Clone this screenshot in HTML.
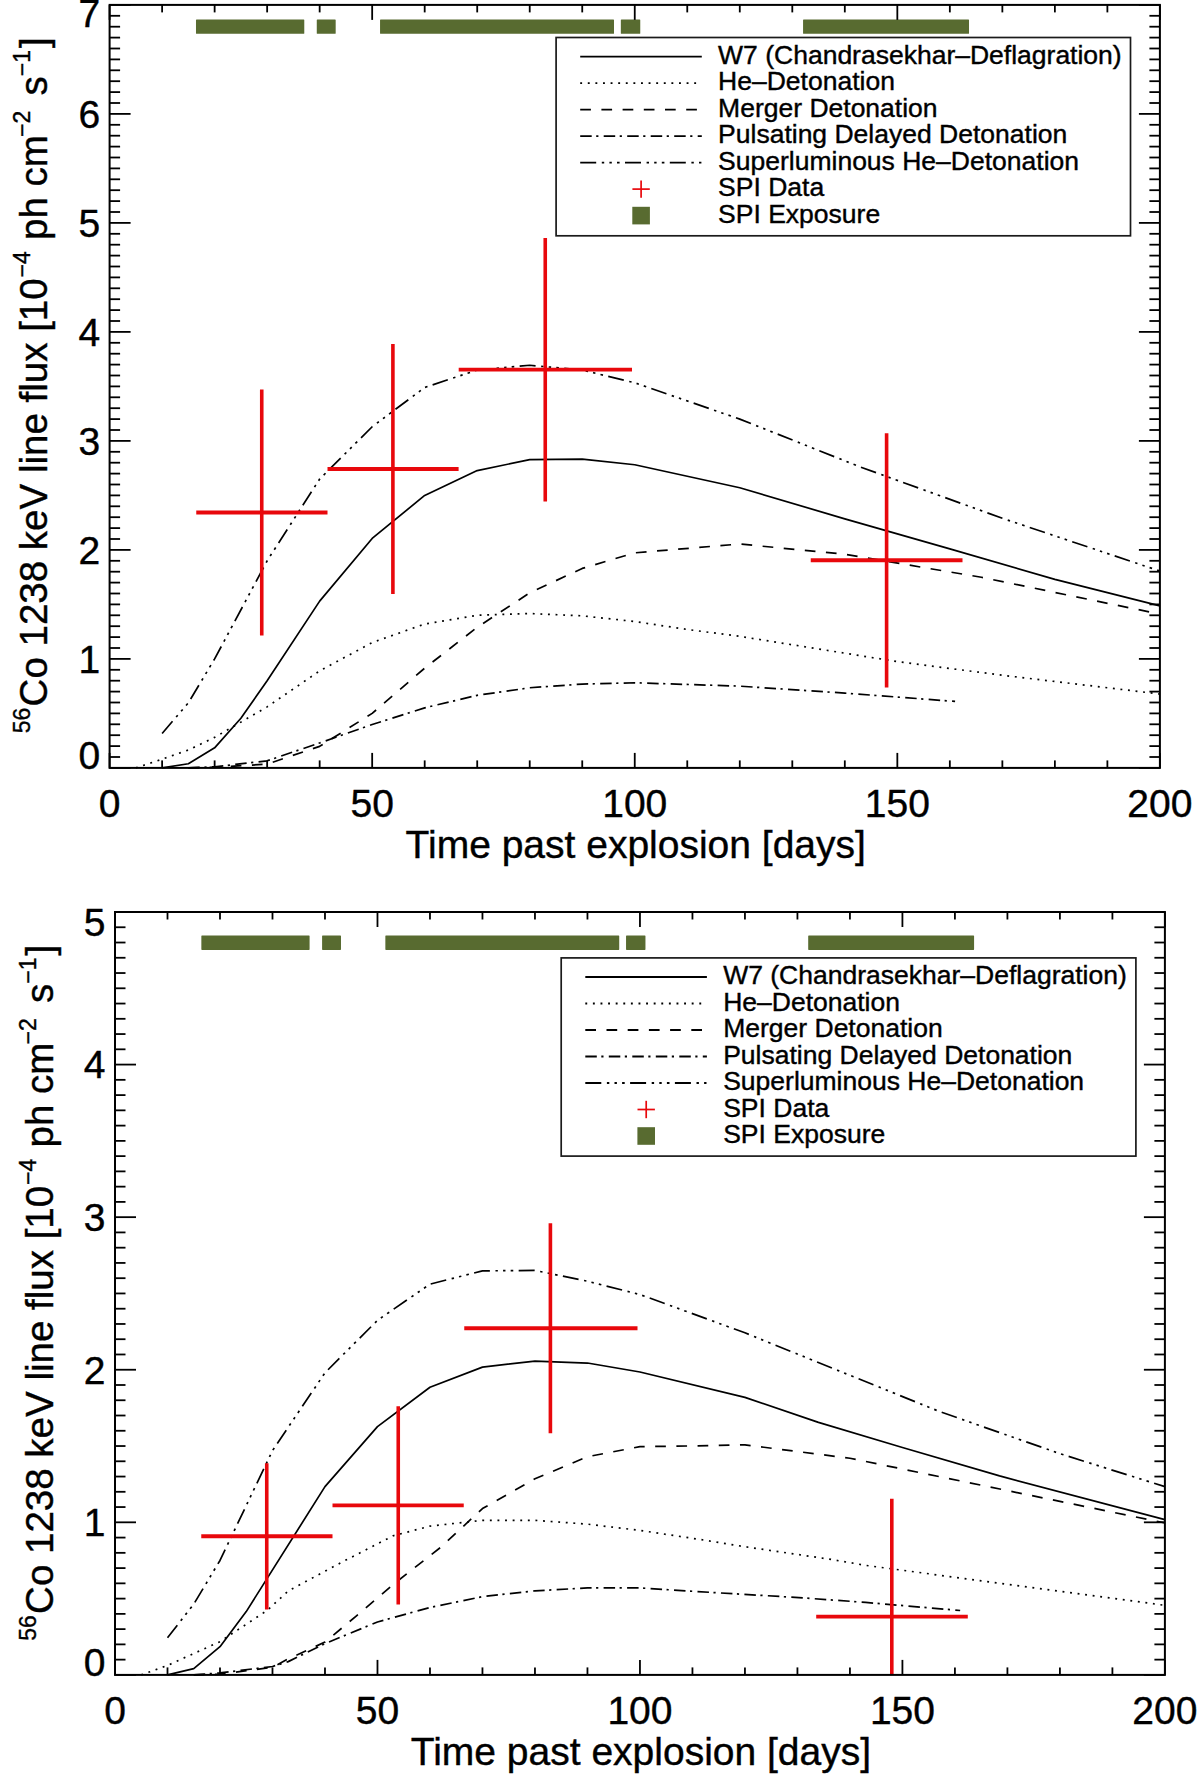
<!DOCTYPE html>
<html><head><meta charset="utf-8"><title>56Co line flux</title>
<style>html,body{margin:0;padding:0;background:#fff;}svg{display:block;}text{font-family:"Liberation Sans", Arial, Helvetica, sans-serif;fill:#000;stroke:#000;stroke-width:0.4px;}</style>
</head><body>
<svg width="1200" height="1775" viewBox="0 0 1200 1775">
<rect width="1200" height="1775" fill="#fff"/>
<polyline points="162.12,767.90 188.37,763.76 214.63,747.84 240.89,718.30 267.14,680.70 319.66,601.13 372.17,538.45 424.69,495.40 477.21,470.55 529.72,459.65 582.24,459.10 634.75,464.77 739.78,487.77 844.81,518.83 949.84,548.81 1054.87,579.33 1159.90,605.82" fill="none" stroke="#000" stroke-width="1.7" stroke-linejoin="round"/>
<polyline points="135.86,767.90 162.12,759.18 188.37,750.02 214.63,737.38 240.89,722.12 267.14,706.86 319.66,670.89 372.17,642.55 424.69,624.02 477.21,615.30 529.72,613.56 582.24,615.85 634.75,621.51 687.26,629.47 739.78,636.34 897.33,661.62 1002.36,675.25 1159.90,694.00" fill="none" stroke="#000" stroke-width="1.7" stroke-dasharray="1.9 5.7" stroke-linejoin="round"/>
<polyline points="188.37,767.90 214.63,767.36 267.14,764.08 319.66,746.32 372.17,713.40 424.69,668.16 477.21,627.29 529.72,592.85 582.24,568.43 634.75,552.84 739.78,544.01 844.81,554.26 981.35,577.26 1159.90,614.10" fill="none" stroke="#000" stroke-width="1.7" stroke-dasharray="10.7 10.5" stroke-linejoin="round"/>
<polyline points="188.37,767.90 214.63,766.81 267.14,760.81 319.66,742.94 372.17,724.52 424.69,707.84 477.21,695.31 529.72,687.78 582.24,684.08 634.75,682.77 739.78,686.15 844.81,693.13 955.09,701.41" fill="none" stroke="#000" stroke-width="1.7" stroke-dasharray="11.5 4.5 2.2 5.3" stroke-linejoin="round"/>
<polyline points="162.12,733.46 188.37,702.83 214.63,658.90 267.14,560.80 319.66,479.05 372.17,426.73 424.69,387.49 477.21,370.05 529.72,365.25 582.24,370.05 634.75,382.80 739.78,419.10 860.56,467.06 1002.36,518.29 1159.90,571.05" fill="none" stroke="#000" stroke-width="1.7" stroke-dasharray="16 5.6 2.4 5.2 2.4 5.2 2.6 5.4" stroke-linejoin="round"/>
<line x1="196.25" y1="512.50" x2="327.50" y2="512.50" stroke="#e8080c" stroke-width="3.8"/>
<line x1="261.75" y1="389.50" x2="261.75" y2="635.50" stroke="#e8080c" stroke-width="3.6"/>
<line x1="327.50" y1="469.00" x2="458.60" y2="469.00" stroke="#e8080c" stroke-width="3.8"/>
<line x1="392.90" y1="344.00" x2="392.90" y2="594.00" stroke="#e8080c" stroke-width="3.6"/>
<line x1="458.70" y1="369.60" x2="632.00" y2="369.60" stroke="#e8080c" stroke-width="3.8"/>
<line x1="545.25" y1="238.00" x2="545.25" y2="501.50" stroke="#e8080c" stroke-width="3.6"/>
<line x1="810.75" y1="560.25" x2="962.50" y2="560.25" stroke="#e8080c" stroke-width="3.8"/>
<line x1="886.60" y1="433.25" x2="886.60" y2="687.50" stroke="#e8080c" stroke-width="3.6"/>
<rect x="195.99" y="19.40" width="108.29" height="14.4" rx="0.6" fill="#586b30"/>
<rect x="316.77" y="19.40" width="18.91" height="14.4" rx="0.6" fill="#586b30"/>
<rect x="380.05" y="19.40" width="233.95" height="14.4" rx="0.6" fill="#586b30"/>
<rect x="620.83" y="19.40" width="19.43" height="14.4" rx="0.6" fill="#586b30"/>
<rect x="803.06" y="19.40" width="165.95" height="14.4" rx="0.6" fill="#586b30"/>
<rect x="556.10" y="37.50" width="574.4" height="198.3" fill="#fff" stroke="#1a1a1a" stroke-width="1.7"/>
<line x1="580.20" y1="56.60" x2="701.80" y2="56.60" stroke="#000" stroke-width="1.8"/>
<text x="718.10" y="63.80" font-size="26.5">W7 (Chandrasekhar–Deflagration)</text>
<line x1="580.20" y1="83.10" x2="701.80" y2="83.10" stroke="#000" stroke-width="1.8" stroke-dasharray="1.9 5.7"/>
<text x="718.10" y="90.30" font-size="26.5">He–Detonation</text>
<line x1="580.20" y1="109.60" x2="701.80" y2="109.60" stroke="#000" stroke-width="1.8" stroke-dasharray="10.7 10.5"/>
<text x="718.10" y="116.80" font-size="26.5">Merger Detonation</text>
<line x1="580.20" y1="136.10" x2="701.80" y2="136.10" stroke="#000" stroke-width="1.8" stroke-dasharray="11.5 4.5 2.2 5.3"/>
<text x="718.10" y="143.30" font-size="26.5">Pulsating Delayed Detonation</text>
<line x1="580.20" y1="162.60" x2="701.80" y2="162.60" stroke="#000" stroke-width="1.8" stroke-dasharray="16 5.6 2.4 5.2 2.4 5.2 2.6 5.4"/>
<text x="718.10" y="169.80" font-size="26.5">Superluminous He–Detonation</text>
<line x1="632.40" y1="189.10" x2="649.80" y2="189.10" stroke="#e8080c" stroke-width="1.7"/>
<line x1="641.10" y1="180.40" x2="641.10" y2="197.80" stroke="#e8080c" stroke-width="1.7"/>
<text x="718.10" y="196.30" font-size="26.5">SPI Data</text>
<rect x="632.30" y="206.80" width="17.6" height="17.6" fill="#586b30"/>
<text x="718.10" y="222.80" font-size="26.5">SPI Exposure</text>
<rect x="109.60" y="4.90" width="1050.30" height="763.00" fill="none" stroke="#000" stroke-width="2"/>
<line x1="109.60" y1="767.90" x2="109.60" y2="752.90" stroke="#000" stroke-width="1.8"/>
<line x1="109.60" y1="4.90" x2="109.60" y2="19.90" stroke="#000" stroke-width="1.8"/>
<line x1="162.12" y1="767.90" x2="162.12" y2="760.40" stroke="#000" stroke-width="1.8"/>
<line x1="162.12" y1="4.90" x2="162.12" y2="12.40" stroke="#000" stroke-width="1.8"/>
<line x1="214.63" y1="767.90" x2="214.63" y2="760.40" stroke="#000" stroke-width="1.8"/>
<line x1="214.63" y1="4.90" x2="214.63" y2="12.40" stroke="#000" stroke-width="1.8"/>
<line x1="267.14" y1="767.90" x2="267.14" y2="760.40" stroke="#000" stroke-width="1.8"/>
<line x1="267.14" y1="4.90" x2="267.14" y2="12.40" stroke="#000" stroke-width="1.8"/>
<line x1="319.66" y1="767.90" x2="319.66" y2="760.40" stroke="#000" stroke-width="1.8"/>
<line x1="319.66" y1="4.90" x2="319.66" y2="12.40" stroke="#000" stroke-width="1.8"/>
<line x1="372.17" y1="767.90" x2="372.17" y2="752.90" stroke="#000" stroke-width="1.8"/>
<line x1="372.17" y1="4.90" x2="372.17" y2="19.90" stroke="#000" stroke-width="1.8"/>
<line x1="424.69" y1="767.90" x2="424.69" y2="760.40" stroke="#000" stroke-width="1.8"/>
<line x1="424.69" y1="4.90" x2="424.69" y2="12.40" stroke="#000" stroke-width="1.8"/>
<line x1="477.21" y1="767.90" x2="477.21" y2="760.40" stroke="#000" stroke-width="1.8"/>
<line x1="477.21" y1="4.90" x2="477.21" y2="12.40" stroke="#000" stroke-width="1.8"/>
<line x1="529.72" y1="767.90" x2="529.72" y2="760.40" stroke="#000" stroke-width="1.8"/>
<line x1="529.72" y1="4.90" x2="529.72" y2="12.40" stroke="#000" stroke-width="1.8"/>
<line x1="582.24" y1="767.90" x2="582.24" y2="760.40" stroke="#000" stroke-width="1.8"/>
<line x1="582.24" y1="4.90" x2="582.24" y2="12.40" stroke="#000" stroke-width="1.8"/>
<line x1="634.75" y1="767.90" x2="634.75" y2="752.90" stroke="#000" stroke-width="1.8"/>
<line x1="634.75" y1="4.90" x2="634.75" y2="19.90" stroke="#000" stroke-width="1.8"/>
<line x1="687.26" y1="767.90" x2="687.26" y2="760.40" stroke="#000" stroke-width="1.8"/>
<line x1="687.26" y1="4.90" x2="687.26" y2="12.40" stroke="#000" stroke-width="1.8"/>
<line x1="739.78" y1="767.90" x2="739.78" y2="760.40" stroke="#000" stroke-width="1.8"/>
<line x1="739.78" y1="4.90" x2="739.78" y2="12.40" stroke="#000" stroke-width="1.8"/>
<line x1="792.30" y1="767.90" x2="792.30" y2="760.40" stroke="#000" stroke-width="1.8"/>
<line x1="792.30" y1="4.90" x2="792.30" y2="12.40" stroke="#000" stroke-width="1.8"/>
<line x1="844.81" y1="767.90" x2="844.81" y2="760.40" stroke="#000" stroke-width="1.8"/>
<line x1="844.81" y1="4.90" x2="844.81" y2="12.40" stroke="#000" stroke-width="1.8"/>
<line x1="897.33" y1="767.90" x2="897.33" y2="752.90" stroke="#000" stroke-width="1.8"/>
<line x1="897.33" y1="4.90" x2="897.33" y2="19.90" stroke="#000" stroke-width="1.8"/>
<line x1="949.84" y1="767.90" x2="949.84" y2="760.40" stroke="#000" stroke-width="1.8"/>
<line x1="949.84" y1="4.90" x2="949.84" y2="12.40" stroke="#000" stroke-width="1.8"/>
<line x1="1002.36" y1="767.90" x2="1002.36" y2="760.40" stroke="#000" stroke-width="1.8"/>
<line x1="1002.36" y1="4.90" x2="1002.36" y2="12.40" stroke="#000" stroke-width="1.8"/>
<line x1="1054.87" y1="767.90" x2="1054.87" y2="760.40" stroke="#000" stroke-width="1.8"/>
<line x1="1054.87" y1="4.90" x2="1054.87" y2="12.40" stroke="#000" stroke-width="1.8"/>
<line x1="1107.38" y1="767.90" x2="1107.38" y2="760.40" stroke="#000" stroke-width="1.8"/>
<line x1="1107.38" y1="4.90" x2="1107.38" y2="12.40" stroke="#000" stroke-width="1.8"/>
<line x1="1159.90" y1="767.90" x2="1159.90" y2="752.90" stroke="#000" stroke-width="1.8"/>
<line x1="1159.90" y1="4.90" x2="1159.90" y2="19.90" stroke="#000" stroke-width="1.8"/>
<line x1="109.60" y1="767.90" x2="130.60" y2="767.90" stroke="#000" stroke-width="1.8"/>
<line x1="1159.90" y1="767.90" x2="1138.90" y2="767.90" stroke="#000" stroke-width="1.8"/>
<line x1="109.60" y1="757.00" x2="120.10" y2="757.00" stroke="#000" stroke-width="1.8"/>
<line x1="1159.90" y1="757.00" x2="1149.40" y2="757.00" stroke="#000" stroke-width="1.8"/>
<line x1="109.60" y1="746.10" x2="120.10" y2="746.10" stroke="#000" stroke-width="1.8"/>
<line x1="1159.90" y1="746.10" x2="1149.40" y2="746.10" stroke="#000" stroke-width="1.8"/>
<line x1="109.60" y1="735.20" x2="120.10" y2="735.20" stroke="#000" stroke-width="1.8"/>
<line x1="1159.90" y1="735.20" x2="1149.40" y2="735.20" stroke="#000" stroke-width="1.8"/>
<line x1="109.60" y1="724.30" x2="120.10" y2="724.30" stroke="#000" stroke-width="1.8"/>
<line x1="1159.90" y1="724.30" x2="1149.40" y2="724.30" stroke="#000" stroke-width="1.8"/>
<line x1="109.60" y1="713.40" x2="120.10" y2="713.40" stroke="#000" stroke-width="1.8"/>
<line x1="1159.90" y1="713.40" x2="1149.40" y2="713.40" stroke="#000" stroke-width="1.8"/>
<line x1="109.60" y1="702.50" x2="120.10" y2="702.50" stroke="#000" stroke-width="1.8"/>
<line x1="1159.90" y1="702.50" x2="1149.40" y2="702.50" stroke="#000" stroke-width="1.8"/>
<line x1="109.60" y1="691.60" x2="120.10" y2="691.60" stroke="#000" stroke-width="1.8"/>
<line x1="1159.90" y1="691.60" x2="1149.40" y2="691.60" stroke="#000" stroke-width="1.8"/>
<line x1="109.60" y1="680.70" x2="120.10" y2="680.70" stroke="#000" stroke-width="1.8"/>
<line x1="1159.90" y1="680.70" x2="1149.40" y2="680.70" stroke="#000" stroke-width="1.8"/>
<line x1="109.60" y1="669.80" x2="120.10" y2="669.80" stroke="#000" stroke-width="1.8"/>
<line x1="1159.90" y1="669.80" x2="1149.40" y2="669.80" stroke="#000" stroke-width="1.8"/>
<line x1="109.60" y1="658.90" x2="130.60" y2="658.90" stroke="#000" stroke-width="1.8"/>
<line x1="1159.90" y1="658.90" x2="1138.90" y2="658.90" stroke="#000" stroke-width="1.8"/>
<line x1="109.60" y1="648.00" x2="120.10" y2="648.00" stroke="#000" stroke-width="1.8"/>
<line x1="1159.90" y1="648.00" x2="1149.40" y2="648.00" stroke="#000" stroke-width="1.8"/>
<line x1="109.60" y1="637.10" x2="120.10" y2="637.10" stroke="#000" stroke-width="1.8"/>
<line x1="1159.90" y1="637.10" x2="1149.40" y2="637.10" stroke="#000" stroke-width="1.8"/>
<line x1="109.60" y1="626.20" x2="120.10" y2="626.20" stroke="#000" stroke-width="1.8"/>
<line x1="1159.90" y1="626.20" x2="1149.40" y2="626.20" stroke="#000" stroke-width="1.8"/>
<line x1="109.60" y1="615.30" x2="120.10" y2="615.30" stroke="#000" stroke-width="1.8"/>
<line x1="1159.90" y1="615.30" x2="1149.40" y2="615.30" stroke="#000" stroke-width="1.8"/>
<line x1="109.60" y1="604.40" x2="120.10" y2="604.40" stroke="#000" stroke-width="1.8"/>
<line x1="1159.90" y1="604.40" x2="1149.40" y2="604.40" stroke="#000" stroke-width="1.8"/>
<line x1="109.60" y1="593.50" x2="120.10" y2="593.50" stroke="#000" stroke-width="1.8"/>
<line x1="1159.90" y1="593.50" x2="1149.40" y2="593.50" stroke="#000" stroke-width="1.8"/>
<line x1="109.60" y1="582.60" x2="120.10" y2="582.60" stroke="#000" stroke-width="1.8"/>
<line x1="1159.90" y1="582.60" x2="1149.40" y2="582.60" stroke="#000" stroke-width="1.8"/>
<line x1="109.60" y1="571.70" x2="120.10" y2="571.70" stroke="#000" stroke-width="1.8"/>
<line x1="1159.90" y1="571.70" x2="1149.40" y2="571.70" stroke="#000" stroke-width="1.8"/>
<line x1="109.60" y1="560.80" x2="120.10" y2="560.80" stroke="#000" stroke-width="1.8"/>
<line x1="1159.90" y1="560.80" x2="1149.40" y2="560.80" stroke="#000" stroke-width="1.8"/>
<line x1="109.60" y1="549.90" x2="130.60" y2="549.90" stroke="#000" stroke-width="1.8"/>
<line x1="1159.90" y1="549.90" x2="1138.90" y2="549.90" stroke="#000" stroke-width="1.8"/>
<line x1="109.60" y1="539.00" x2="120.10" y2="539.00" stroke="#000" stroke-width="1.8"/>
<line x1="1159.90" y1="539.00" x2="1149.40" y2="539.00" stroke="#000" stroke-width="1.8"/>
<line x1="109.60" y1="528.10" x2="120.10" y2="528.10" stroke="#000" stroke-width="1.8"/>
<line x1="1159.90" y1="528.10" x2="1149.40" y2="528.10" stroke="#000" stroke-width="1.8"/>
<line x1="109.60" y1="517.20" x2="120.10" y2="517.20" stroke="#000" stroke-width="1.8"/>
<line x1="1159.90" y1="517.20" x2="1149.40" y2="517.20" stroke="#000" stroke-width="1.8"/>
<line x1="109.60" y1="506.30" x2="120.10" y2="506.30" stroke="#000" stroke-width="1.8"/>
<line x1="1159.90" y1="506.30" x2="1149.40" y2="506.30" stroke="#000" stroke-width="1.8"/>
<line x1="109.60" y1="495.40" x2="120.10" y2="495.40" stroke="#000" stroke-width="1.8"/>
<line x1="1159.90" y1="495.40" x2="1149.40" y2="495.40" stroke="#000" stroke-width="1.8"/>
<line x1="109.60" y1="484.50" x2="120.10" y2="484.50" stroke="#000" stroke-width="1.8"/>
<line x1="1159.90" y1="484.50" x2="1149.40" y2="484.50" stroke="#000" stroke-width="1.8"/>
<line x1="109.60" y1="473.60" x2="120.10" y2="473.60" stroke="#000" stroke-width="1.8"/>
<line x1="1159.90" y1="473.60" x2="1149.40" y2="473.60" stroke="#000" stroke-width="1.8"/>
<line x1="109.60" y1="462.70" x2="120.10" y2="462.70" stroke="#000" stroke-width="1.8"/>
<line x1="1159.90" y1="462.70" x2="1149.40" y2="462.70" stroke="#000" stroke-width="1.8"/>
<line x1="109.60" y1="451.80" x2="120.10" y2="451.80" stroke="#000" stroke-width="1.8"/>
<line x1="1159.90" y1="451.80" x2="1149.40" y2="451.80" stroke="#000" stroke-width="1.8"/>
<line x1="109.60" y1="440.90" x2="130.60" y2="440.90" stroke="#000" stroke-width="1.8"/>
<line x1="1159.90" y1="440.90" x2="1138.90" y2="440.90" stroke="#000" stroke-width="1.8"/>
<line x1="109.60" y1="430.00" x2="120.10" y2="430.00" stroke="#000" stroke-width="1.8"/>
<line x1="1159.90" y1="430.00" x2="1149.40" y2="430.00" stroke="#000" stroke-width="1.8"/>
<line x1="109.60" y1="419.10" x2="120.10" y2="419.10" stroke="#000" stroke-width="1.8"/>
<line x1="1159.90" y1="419.10" x2="1149.40" y2="419.10" stroke="#000" stroke-width="1.8"/>
<line x1="109.60" y1="408.20" x2="120.10" y2="408.20" stroke="#000" stroke-width="1.8"/>
<line x1="1159.90" y1="408.20" x2="1149.40" y2="408.20" stroke="#000" stroke-width="1.8"/>
<line x1="109.60" y1="397.30" x2="120.10" y2="397.30" stroke="#000" stroke-width="1.8"/>
<line x1="1159.90" y1="397.30" x2="1149.40" y2="397.30" stroke="#000" stroke-width="1.8"/>
<line x1="109.60" y1="386.40" x2="120.10" y2="386.40" stroke="#000" stroke-width="1.8"/>
<line x1="1159.90" y1="386.40" x2="1149.40" y2="386.40" stroke="#000" stroke-width="1.8"/>
<line x1="109.60" y1="375.50" x2="120.10" y2="375.50" stroke="#000" stroke-width="1.8"/>
<line x1="1159.90" y1="375.50" x2="1149.40" y2="375.50" stroke="#000" stroke-width="1.8"/>
<line x1="109.60" y1="364.60" x2="120.10" y2="364.60" stroke="#000" stroke-width="1.8"/>
<line x1="1159.90" y1="364.60" x2="1149.40" y2="364.60" stroke="#000" stroke-width="1.8"/>
<line x1="109.60" y1="353.70" x2="120.10" y2="353.70" stroke="#000" stroke-width="1.8"/>
<line x1="1159.90" y1="353.70" x2="1149.40" y2="353.70" stroke="#000" stroke-width="1.8"/>
<line x1="109.60" y1="342.80" x2="120.10" y2="342.80" stroke="#000" stroke-width="1.8"/>
<line x1="1159.90" y1="342.80" x2="1149.40" y2="342.80" stroke="#000" stroke-width="1.8"/>
<line x1="109.60" y1="331.90" x2="130.60" y2="331.90" stroke="#000" stroke-width="1.8"/>
<line x1="1159.90" y1="331.90" x2="1138.90" y2="331.90" stroke="#000" stroke-width="1.8"/>
<line x1="109.60" y1="321.00" x2="120.10" y2="321.00" stroke="#000" stroke-width="1.8"/>
<line x1="1159.90" y1="321.00" x2="1149.40" y2="321.00" stroke="#000" stroke-width="1.8"/>
<line x1="109.60" y1="310.10" x2="120.10" y2="310.10" stroke="#000" stroke-width="1.8"/>
<line x1="1159.90" y1="310.10" x2="1149.40" y2="310.10" stroke="#000" stroke-width="1.8"/>
<line x1="109.60" y1="299.20" x2="120.10" y2="299.20" stroke="#000" stroke-width="1.8"/>
<line x1="1159.90" y1="299.20" x2="1149.40" y2="299.20" stroke="#000" stroke-width="1.8"/>
<line x1="109.60" y1="288.30" x2="120.10" y2="288.30" stroke="#000" stroke-width="1.8"/>
<line x1="1159.90" y1="288.30" x2="1149.40" y2="288.30" stroke="#000" stroke-width="1.8"/>
<line x1="109.60" y1="277.40" x2="120.10" y2="277.40" stroke="#000" stroke-width="1.8"/>
<line x1="1159.90" y1="277.40" x2="1149.40" y2="277.40" stroke="#000" stroke-width="1.8"/>
<line x1="109.60" y1="266.50" x2="120.10" y2="266.50" stroke="#000" stroke-width="1.8"/>
<line x1="1159.90" y1="266.50" x2="1149.40" y2="266.50" stroke="#000" stroke-width="1.8"/>
<line x1="109.60" y1="255.60" x2="120.10" y2="255.60" stroke="#000" stroke-width="1.8"/>
<line x1="1159.90" y1="255.60" x2="1149.40" y2="255.60" stroke="#000" stroke-width="1.8"/>
<line x1="109.60" y1="244.70" x2="120.10" y2="244.70" stroke="#000" stroke-width="1.8"/>
<line x1="1159.90" y1="244.70" x2="1149.40" y2="244.70" stroke="#000" stroke-width="1.8"/>
<line x1="109.60" y1="233.80" x2="120.10" y2="233.80" stroke="#000" stroke-width="1.8"/>
<line x1="1159.90" y1="233.80" x2="1149.40" y2="233.80" stroke="#000" stroke-width="1.8"/>
<line x1="109.60" y1="222.90" x2="130.60" y2="222.90" stroke="#000" stroke-width="1.8"/>
<line x1="1159.90" y1="222.90" x2="1138.90" y2="222.90" stroke="#000" stroke-width="1.8"/>
<line x1="109.60" y1="212.00" x2="120.10" y2="212.00" stroke="#000" stroke-width="1.8"/>
<line x1="1159.90" y1="212.00" x2="1149.40" y2="212.00" stroke="#000" stroke-width="1.8"/>
<line x1="109.60" y1="201.10" x2="120.10" y2="201.10" stroke="#000" stroke-width="1.8"/>
<line x1="1159.90" y1="201.10" x2="1149.40" y2="201.10" stroke="#000" stroke-width="1.8"/>
<line x1="109.60" y1="190.20" x2="120.10" y2="190.20" stroke="#000" stroke-width="1.8"/>
<line x1="1159.90" y1="190.20" x2="1149.40" y2="190.20" stroke="#000" stroke-width="1.8"/>
<line x1="109.60" y1="179.30" x2="120.10" y2="179.30" stroke="#000" stroke-width="1.8"/>
<line x1="1159.90" y1="179.30" x2="1149.40" y2="179.30" stroke="#000" stroke-width="1.8"/>
<line x1="109.60" y1="168.40" x2="120.10" y2="168.40" stroke="#000" stroke-width="1.8"/>
<line x1="1159.90" y1="168.40" x2="1149.40" y2="168.40" stroke="#000" stroke-width="1.8"/>
<line x1="109.60" y1="157.50" x2="120.10" y2="157.50" stroke="#000" stroke-width="1.8"/>
<line x1="1159.90" y1="157.50" x2="1149.40" y2="157.50" stroke="#000" stroke-width="1.8"/>
<line x1="109.60" y1="146.60" x2="120.10" y2="146.60" stroke="#000" stroke-width="1.8"/>
<line x1="1159.90" y1="146.60" x2="1149.40" y2="146.60" stroke="#000" stroke-width="1.8"/>
<line x1="109.60" y1="135.70" x2="120.10" y2="135.70" stroke="#000" stroke-width="1.8"/>
<line x1="1159.90" y1="135.70" x2="1149.40" y2="135.70" stroke="#000" stroke-width="1.8"/>
<line x1="109.60" y1="124.80" x2="120.10" y2="124.80" stroke="#000" stroke-width="1.8"/>
<line x1="1159.90" y1="124.80" x2="1149.40" y2="124.80" stroke="#000" stroke-width="1.8"/>
<line x1="109.60" y1="113.90" x2="130.60" y2="113.90" stroke="#000" stroke-width="1.8"/>
<line x1="1159.90" y1="113.90" x2="1138.90" y2="113.90" stroke="#000" stroke-width="1.8"/>
<line x1="109.60" y1="103.00" x2="120.10" y2="103.00" stroke="#000" stroke-width="1.8"/>
<line x1="1159.90" y1="103.00" x2="1149.40" y2="103.00" stroke="#000" stroke-width="1.8"/>
<line x1="109.60" y1="92.10" x2="120.10" y2="92.10" stroke="#000" stroke-width="1.8"/>
<line x1="1159.90" y1="92.10" x2="1149.40" y2="92.10" stroke="#000" stroke-width="1.8"/>
<line x1="109.60" y1="81.20" x2="120.10" y2="81.20" stroke="#000" stroke-width="1.8"/>
<line x1="1159.90" y1="81.20" x2="1149.40" y2="81.20" stroke="#000" stroke-width="1.8"/>
<line x1="109.60" y1="70.30" x2="120.10" y2="70.30" stroke="#000" stroke-width="1.8"/>
<line x1="1159.90" y1="70.30" x2="1149.40" y2="70.30" stroke="#000" stroke-width="1.8"/>
<line x1="109.60" y1="59.40" x2="120.10" y2="59.40" stroke="#000" stroke-width="1.8"/>
<line x1="1159.90" y1="59.40" x2="1149.40" y2="59.40" stroke="#000" stroke-width="1.8"/>
<line x1="109.60" y1="48.50" x2="120.10" y2="48.50" stroke="#000" stroke-width="1.8"/>
<line x1="1159.90" y1="48.50" x2="1149.40" y2="48.50" stroke="#000" stroke-width="1.8"/>
<line x1="109.60" y1="37.60" x2="120.10" y2="37.60" stroke="#000" stroke-width="1.8"/>
<line x1="1159.90" y1="37.60" x2="1149.40" y2="37.60" stroke="#000" stroke-width="1.8"/>
<line x1="109.60" y1="26.70" x2="120.10" y2="26.70" stroke="#000" stroke-width="1.8"/>
<line x1="1159.90" y1="26.70" x2="1149.40" y2="26.70" stroke="#000" stroke-width="1.8"/>
<line x1="109.60" y1="15.80" x2="120.10" y2="15.80" stroke="#000" stroke-width="1.8"/>
<line x1="1159.90" y1="15.80" x2="1149.40" y2="15.80" stroke="#000" stroke-width="1.8"/>
<line x1="109.60" y1="4.90" x2="130.60" y2="4.90" stroke="#000" stroke-width="1.8"/>
<line x1="1159.90" y1="4.90" x2="1138.90" y2="4.90" stroke="#000" stroke-width="1.8"/>
<text x="109.60" y="816.90" text-anchor="middle" font-size="39">0</text>
<text x="372.17" y="816.90" text-anchor="middle" font-size="39">50</text>
<text x="634.75" y="816.90" text-anchor="middle" font-size="39">100</text>
<text x="897.33" y="816.90" text-anchor="middle" font-size="39">150</text>
<text x="1159.90" y="816.90" text-anchor="middle" font-size="39">200</text>
<text x="100.10" y="768.70" text-anchor="end" font-size="39">0</text>
<text x="100.10" y="672.70" text-anchor="end" font-size="39">1</text>
<text x="100.10" y="563.70" text-anchor="end" font-size="39">2</text>
<text x="100.10" y="454.70" text-anchor="end" font-size="39">3</text>
<text x="100.10" y="345.70" text-anchor="end" font-size="39">4</text>
<text x="100.10" y="236.70" text-anchor="end" font-size="39">5</text>
<text x="100.10" y="127.70" text-anchor="end" font-size="39">6</text>
<text x="100.10" y="27.00" text-anchor="end" font-size="39">7</text>
<text x="635.75" y="858.40" text-anchor="middle" font-size="39">Time past explosion [days]</text>
<text transform="translate(47.30,0) rotate(-90)"><tspan x="-733.30" y="-17" font-size="23">56</tspan><tspan x="-706.40" y="0" font-size="38.5">Co 1238 keV line flux [10</tspan><tspan x="-277.50" y="-17" font-size="23">−4</tspan><tspan x="-240.00" y="0" font-size="38.5">ph cm</tspan><tspan x="-137.00" y="-17" font-size="23">−2</tspan><tspan x="-95.60" y="0" font-size="38.5">s</tspan><tspan x="-76.20" y="-17" font-size="23">−1</tspan><tspan x="-47.90" y="0" font-size="38.5">]</tspan></text>
<polyline points="167.50,1674.90 193.74,1668.64 219.99,1646.67 246.24,1611.58 324.98,1486.62 377.48,1426.65 429.97,1387.29 482.46,1367.15 534.96,1361.04 587.46,1363.03 639.95,1372.03 744.94,1397.36 818.43,1422.38 902.42,1447.56 999.54,1475.94 1164.90,1519.57" fill="none" stroke="#000" stroke-width="1.7" stroke-linejoin="round"/>
<polyline points="141.25,1674.90 167.50,1665.44 219.99,1641.64 267.24,1610.36 288.23,1590.98 340.73,1562.75 393.22,1535.75 429.97,1526.13 482.46,1520.34 534.96,1520.34 587.46,1524.15 639.95,1530.41 697.69,1539.10 744.94,1546.73 828.93,1559.09 865.68,1565.35 1164.90,1605.32" fill="none" stroke="#000" stroke-width="1.7" stroke-dasharray="1.9 5.7" stroke-linejoin="round"/>
<polyline points="193.74,1674.90 219.99,1674.14 272.49,1667.27 288.23,1658.88 324.98,1642.10 356.48,1615.85 393.22,1584.42 440.47,1547.50 482.46,1508.59 534.96,1478.83 587.46,1456.71 639.95,1446.64 697.69,1445.88 744.94,1444.81 849.93,1458.24 1164.90,1522.93" fill="none" stroke="#000" stroke-width="1.7" stroke-dasharray="10.7 10.5" stroke-linejoin="round"/>
<polyline points="193.74,1674.90 219.99,1672.92 272.49,1666.51 288.23,1661.63 324.98,1643.62 377.48,1621.95 429.97,1607.46 482.46,1596.63 534.96,1590.83 587.46,1587.93 639.95,1587.93 697.69,1591.59 802.68,1597.85 865.68,1602.42 960.17,1610.51" fill="none" stroke="#000" stroke-width="1.7" stroke-dasharray="11.5 4.5 2.2 5.3" stroke-linejoin="round"/>
<polyline points="167.50,1637.82 193.74,1604.10 219.99,1560.47 272.49,1450.61 324.98,1372.79 377.48,1320.30 429.97,1284.14 482.46,1270.87 534.96,1270.41 587.46,1281.24 639.95,1294.52 744.94,1332.82 939.17,1411.39 1059.91,1453.66 1164.90,1486.62" fill="none" stroke="#000" stroke-width="1.7" stroke-dasharray="16 5.6 2.4 5.2 2.4 5.2 2.6 5.4" stroke-linejoin="round"/>
<line x1="201.25" y1="1536.25" x2="332.50" y2="1536.25" stroke="#e8080c" stroke-width="3.8"/>
<line x1="266.75" y1="1463.25" x2="266.75" y2="1609.50" stroke="#e8080c" stroke-width="3.6"/>
<line x1="332.50" y1="1505.40" x2="463.75" y2="1505.40" stroke="#e8080c" stroke-width="3.8"/>
<line x1="398.25" y1="1406.25" x2="398.25" y2="1604.50" stroke="#e8080c" stroke-width="3.6"/>
<line x1="464.25" y1="1328.25" x2="637.50" y2="1328.25" stroke="#e8080c" stroke-width="3.8"/>
<line x1="550.40" y1="1223.30" x2="550.40" y2="1433.25" stroke="#e8080c" stroke-width="3.6"/>
<line x1="816.20" y1="1616.70" x2="967.80" y2="1616.70" stroke="#e8080c" stroke-width="3.8"/>
<line x1="891.80" y1="1498.75" x2="891.80" y2="1674.50" stroke="#e8080c" stroke-width="3.6"/>
<rect x="201.35" y="935.50" width="108.24" height="14.4" rx="0.6" fill="#586b30"/>
<rect x="322.09" y="935.50" width="18.90" height="14.4" rx="0.6" fill="#586b30"/>
<rect x="385.35" y="935.50" width="233.87" height="14.4" rx="0.6" fill="#586b30"/>
<rect x="626.04" y="935.50" width="19.42" height="14.4" rx="0.6" fill="#586b30"/>
<rect x="808.20" y="935.50" width="165.88" height="14.4" rx="0.6" fill="#586b30"/>
<rect x="561.20" y="957.90" width="574.7" height="198.2" fill="#fff" stroke="#1a1a1a" stroke-width="1.7"/>
<line x1="585.30" y1="977.00" x2="706.90" y2="977.00" stroke="#000" stroke-width="1.8"/>
<text x="723.20" y="984.20" font-size="26.5">W7 (Chandrasekhar–Deflagration)</text>
<line x1="585.30" y1="1003.50" x2="706.90" y2="1003.50" stroke="#000" stroke-width="1.8" stroke-dasharray="1.9 5.7"/>
<text x="723.20" y="1010.70" font-size="26.5">He–Detonation</text>
<line x1="585.30" y1="1030.00" x2="706.90" y2="1030.00" stroke="#000" stroke-width="1.8" stroke-dasharray="10.7 10.5"/>
<text x="723.20" y="1037.20" font-size="26.5">Merger Detonation</text>
<line x1="585.30" y1="1056.50" x2="706.90" y2="1056.50" stroke="#000" stroke-width="1.8" stroke-dasharray="11.5 4.5 2.2 5.3"/>
<text x="723.20" y="1063.70" font-size="26.5">Pulsating Delayed Detonation</text>
<line x1="585.30" y1="1083.00" x2="706.90" y2="1083.00" stroke="#000" stroke-width="1.8" stroke-dasharray="16 5.6 2.4 5.2 2.4 5.2 2.6 5.4"/>
<text x="723.20" y="1090.20" font-size="26.5">Superluminous He–Detonation</text>
<line x1="637.50" y1="1109.50" x2="654.90" y2="1109.50" stroke="#e8080c" stroke-width="1.7"/>
<line x1="646.20" y1="1100.80" x2="646.20" y2="1118.20" stroke="#e8080c" stroke-width="1.7"/>
<text x="723.20" y="1116.70" font-size="26.5">SPI Data</text>
<rect x="637.40" y="1127.20" width="17.6" height="17.6" fill="#586b30"/>
<text x="723.20" y="1143.20" font-size="26.5">SPI Exposure</text>
<rect x="115.00" y="912.00" width="1049.90" height="762.90" fill="none" stroke="#000" stroke-width="2"/>
<line x1="115.00" y1="1674.90" x2="115.00" y2="1659.90" stroke="#000" stroke-width="1.8"/>
<line x1="115.00" y1="912.00" x2="115.00" y2="927.00" stroke="#000" stroke-width="1.8"/>
<line x1="167.50" y1="1674.90" x2="167.50" y2="1667.40" stroke="#000" stroke-width="1.8"/>
<line x1="167.50" y1="912.00" x2="167.50" y2="919.50" stroke="#000" stroke-width="1.8"/>
<line x1="219.99" y1="1674.90" x2="219.99" y2="1667.40" stroke="#000" stroke-width="1.8"/>
<line x1="219.99" y1="912.00" x2="219.99" y2="919.50" stroke="#000" stroke-width="1.8"/>
<line x1="272.49" y1="1674.90" x2="272.49" y2="1667.40" stroke="#000" stroke-width="1.8"/>
<line x1="272.49" y1="912.00" x2="272.49" y2="919.50" stroke="#000" stroke-width="1.8"/>
<line x1="324.98" y1="1674.90" x2="324.98" y2="1667.40" stroke="#000" stroke-width="1.8"/>
<line x1="324.98" y1="912.00" x2="324.98" y2="919.50" stroke="#000" stroke-width="1.8"/>
<line x1="377.48" y1="1674.90" x2="377.48" y2="1659.90" stroke="#000" stroke-width="1.8"/>
<line x1="377.48" y1="912.00" x2="377.48" y2="927.00" stroke="#000" stroke-width="1.8"/>
<line x1="429.97" y1="1674.90" x2="429.97" y2="1667.40" stroke="#000" stroke-width="1.8"/>
<line x1="429.97" y1="912.00" x2="429.97" y2="919.50" stroke="#000" stroke-width="1.8"/>
<line x1="482.46" y1="1674.90" x2="482.46" y2="1667.40" stroke="#000" stroke-width="1.8"/>
<line x1="482.46" y1="912.00" x2="482.46" y2="919.50" stroke="#000" stroke-width="1.8"/>
<line x1="534.96" y1="1674.90" x2="534.96" y2="1667.40" stroke="#000" stroke-width="1.8"/>
<line x1="534.96" y1="912.00" x2="534.96" y2="919.50" stroke="#000" stroke-width="1.8"/>
<line x1="587.46" y1="1674.90" x2="587.46" y2="1667.40" stroke="#000" stroke-width="1.8"/>
<line x1="587.46" y1="912.00" x2="587.46" y2="919.50" stroke="#000" stroke-width="1.8"/>
<line x1="639.95" y1="1674.90" x2="639.95" y2="1659.90" stroke="#000" stroke-width="1.8"/>
<line x1="639.95" y1="912.00" x2="639.95" y2="927.00" stroke="#000" stroke-width="1.8"/>
<line x1="692.45" y1="1674.90" x2="692.45" y2="1667.40" stroke="#000" stroke-width="1.8"/>
<line x1="692.45" y1="912.00" x2="692.45" y2="919.50" stroke="#000" stroke-width="1.8"/>
<line x1="744.94" y1="1674.90" x2="744.94" y2="1667.40" stroke="#000" stroke-width="1.8"/>
<line x1="744.94" y1="912.00" x2="744.94" y2="919.50" stroke="#000" stroke-width="1.8"/>
<line x1="797.43" y1="1674.90" x2="797.43" y2="1667.40" stroke="#000" stroke-width="1.8"/>
<line x1="797.43" y1="912.00" x2="797.43" y2="919.50" stroke="#000" stroke-width="1.8"/>
<line x1="849.93" y1="1674.90" x2="849.93" y2="1667.40" stroke="#000" stroke-width="1.8"/>
<line x1="849.93" y1="912.00" x2="849.93" y2="919.50" stroke="#000" stroke-width="1.8"/>
<line x1="902.42" y1="1674.90" x2="902.42" y2="1659.90" stroke="#000" stroke-width="1.8"/>
<line x1="902.42" y1="912.00" x2="902.42" y2="927.00" stroke="#000" stroke-width="1.8"/>
<line x1="954.92" y1="1674.90" x2="954.92" y2="1667.40" stroke="#000" stroke-width="1.8"/>
<line x1="954.92" y1="912.00" x2="954.92" y2="919.50" stroke="#000" stroke-width="1.8"/>
<line x1="1007.42" y1="1674.90" x2="1007.42" y2="1667.40" stroke="#000" stroke-width="1.8"/>
<line x1="1007.42" y1="912.00" x2="1007.42" y2="919.50" stroke="#000" stroke-width="1.8"/>
<line x1="1059.91" y1="1674.90" x2="1059.91" y2="1667.40" stroke="#000" stroke-width="1.8"/>
<line x1="1059.91" y1="912.00" x2="1059.91" y2="919.50" stroke="#000" stroke-width="1.8"/>
<line x1="1112.41" y1="1674.90" x2="1112.41" y2="1667.40" stroke="#000" stroke-width="1.8"/>
<line x1="1112.41" y1="912.00" x2="1112.41" y2="919.50" stroke="#000" stroke-width="1.8"/>
<line x1="1164.90" y1="1674.90" x2="1164.90" y2="1659.90" stroke="#000" stroke-width="1.8"/>
<line x1="1164.90" y1="912.00" x2="1164.90" y2="927.00" stroke="#000" stroke-width="1.8"/>
<line x1="115.00" y1="1674.90" x2="136.00" y2="1674.90" stroke="#000" stroke-width="1.8"/>
<line x1="1164.90" y1="1674.90" x2="1143.90" y2="1674.90" stroke="#000" stroke-width="1.8"/>
<line x1="115.00" y1="1659.64" x2="125.50" y2="1659.64" stroke="#000" stroke-width="1.8"/>
<line x1="1164.90" y1="1659.64" x2="1154.40" y2="1659.64" stroke="#000" stroke-width="1.8"/>
<line x1="115.00" y1="1644.38" x2="125.50" y2="1644.38" stroke="#000" stroke-width="1.8"/>
<line x1="1164.90" y1="1644.38" x2="1154.40" y2="1644.38" stroke="#000" stroke-width="1.8"/>
<line x1="115.00" y1="1629.13" x2="125.50" y2="1629.13" stroke="#000" stroke-width="1.8"/>
<line x1="1164.90" y1="1629.13" x2="1154.40" y2="1629.13" stroke="#000" stroke-width="1.8"/>
<line x1="115.00" y1="1613.87" x2="125.50" y2="1613.87" stroke="#000" stroke-width="1.8"/>
<line x1="1164.90" y1="1613.87" x2="1154.40" y2="1613.87" stroke="#000" stroke-width="1.8"/>
<line x1="115.00" y1="1598.61" x2="125.50" y2="1598.61" stroke="#000" stroke-width="1.8"/>
<line x1="1164.90" y1="1598.61" x2="1154.40" y2="1598.61" stroke="#000" stroke-width="1.8"/>
<line x1="115.00" y1="1583.35" x2="125.50" y2="1583.35" stroke="#000" stroke-width="1.8"/>
<line x1="1164.90" y1="1583.35" x2="1154.40" y2="1583.35" stroke="#000" stroke-width="1.8"/>
<line x1="115.00" y1="1568.09" x2="125.50" y2="1568.09" stroke="#000" stroke-width="1.8"/>
<line x1="1164.90" y1="1568.09" x2="1154.40" y2="1568.09" stroke="#000" stroke-width="1.8"/>
<line x1="115.00" y1="1552.84" x2="125.50" y2="1552.84" stroke="#000" stroke-width="1.8"/>
<line x1="1164.90" y1="1552.84" x2="1154.40" y2="1552.84" stroke="#000" stroke-width="1.8"/>
<line x1="115.00" y1="1537.58" x2="125.50" y2="1537.58" stroke="#000" stroke-width="1.8"/>
<line x1="1164.90" y1="1537.58" x2="1154.40" y2="1537.58" stroke="#000" stroke-width="1.8"/>
<line x1="115.00" y1="1522.32" x2="136.00" y2="1522.32" stroke="#000" stroke-width="1.8"/>
<line x1="1164.90" y1="1522.32" x2="1143.90" y2="1522.32" stroke="#000" stroke-width="1.8"/>
<line x1="115.00" y1="1507.06" x2="125.50" y2="1507.06" stroke="#000" stroke-width="1.8"/>
<line x1="1164.90" y1="1507.06" x2="1154.40" y2="1507.06" stroke="#000" stroke-width="1.8"/>
<line x1="115.00" y1="1491.80" x2="125.50" y2="1491.80" stroke="#000" stroke-width="1.8"/>
<line x1="1164.90" y1="1491.80" x2="1154.40" y2="1491.80" stroke="#000" stroke-width="1.8"/>
<line x1="115.00" y1="1476.55" x2="125.50" y2="1476.55" stroke="#000" stroke-width="1.8"/>
<line x1="1164.90" y1="1476.55" x2="1154.40" y2="1476.55" stroke="#000" stroke-width="1.8"/>
<line x1="115.00" y1="1461.29" x2="125.50" y2="1461.29" stroke="#000" stroke-width="1.8"/>
<line x1="1164.90" y1="1461.29" x2="1154.40" y2="1461.29" stroke="#000" stroke-width="1.8"/>
<line x1="115.00" y1="1446.03" x2="125.50" y2="1446.03" stroke="#000" stroke-width="1.8"/>
<line x1="1164.90" y1="1446.03" x2="1154.40" y2="1446.03" stroke="#000" stroke-width="1.8"/>
<line x1="115.00" y1="1430.77" x2="125.50" y2="1430.77" stroke="#000" stroke-width="1.8"/>
<line x1="1164.90" y1="1430.77" x2="1154.40" y2="1430.77" stroke="#000" stroke-width="1.8"/>
<line x1="115.00" y1="1415.51" x2="125.50" y2="1415.51" stroke="#000" stroke-width="1.8"/>
<line x1="1164.90" y1="1415.51" x2="1154.40" y2="1415.51" stroke="#000" stroke-width="1.8"/>
<line x1="115.00" y1="1400.26" x2="125.50" y2="1400.26" stroke="#000" stroke-width="1.8"/>
<line x1="1164.90" y1="1400.26" x2="1154.40" y2="1400.26" stroke="#000" stroke-width="1.8"/>
<line x1="115.00" y1="1385.00" x2="125.50" y2="1385.00" stroke="#000" stroke-width="1.8"/>
<line x1="1164.90" y1="1385.00" x2="1154.40" y2="1385.00" stroke="#000" stroke-width="1.8"/>
<line x1="115.00" y1="1369.74" x2="136.00" y2="1369.74" stroke="#000" stroke-width="1.8"/>
<line x1="1164.90" y1="1369.74" x2="1143.90" y2="1369.74" stroke="#000" stroke-width="1.8"/>
<line x1="115.00" y1="1354.48" x2="125.50" y2="1354.48" stroke="#000" stroke-width="1.8"/>
<line x1="1164.90" y1="1354.48" x2="1154.40" y2="1354.48" stroke="#000" stroke-width="1.8"/>
<line x1="115.00" y1="1339.22" x2="125.50" y2="1339.22" stroke="#000" stroke-width="1.8"/>
<line x1="1164.90" y1="1339.22" x2="1154.40" y2="1339.22" stroke="#000" stroke-width="1.8"/>
<line x1="115.00" y1="1323.97" x2="125.50" y2="1323.97" stroke="#000" stroke-width="1.8"/>
<line x1="1164.90" y1="1323.97" x2="1154.40" y2="1323.97" stroke="#000" stroke-width="1.8"/>
<line x1="115.00" y1="1308.71" x2="125.50" y2="1308.71" stroke="#000" stroke-width="1.8"/>
<line x1="1164.90" y1="1308.71" x2="1154.40" y2="1308.71" stroke="#000" stroke-width="1.8"/>
<line x1="115.00" y1="1293.45" x2="125.50" y2="1293.45" stroke="#000" stroke-width="1.8"/>
<line x1="1164.90" y1="1293.45" x2="1154.40" y2="1293.45" stroke="#000" stroke-width="1.8"/>
<line x1="115.00" y1="1278.19" x2="125.50" y2="1278.19" stroke="#000" stroke-width="1.8"/>
<line x1="1164.90" y1="1278.19" x2="1154.40" y2="1278.19" stroke="#000" stroke-width="1.8"/>
<line x1="115.00" y1="1262.93" x2="125.50" y2="1262.93" stroke="#000" stroke-width="1.8"/>
<line x1="1164.90" y1="1262.93" x2="1154.40" y2="1262.93" stroke="#000" stroke-width="1.8"/>
<line x1="115.00" y1="1247.68" x2="125.50" y2="1247.68" stroke="#000" stroke-width="1.8"/>
<line x1="1164.90" y1="1247.68" x2="1154.40" y2="1247.68" stroke="#000" stroke-width="1.8"/>
<line x1="115.00" y1="1232.42" x2="125.50" y2="1232.42" stroke="#000" stroke-width="1.8"/>
<line x1="1164.90" y1="1232.42" x2="1154.40" y2="1232.42" stroke="#000" stroke-width="1.8"/>
<line x1="115.00" y1="1217.16" x2="136.00" y2="1217.16" stroke="#000" stroke-width="1.8"/>
<line x1="1164.90" y1="1217.16" x2="1143.90" y2="1217.16" stroke="#000" stroke-width="1.8"/>
<line x1="115.00" y1="1201.90" x2="125.50" y2="1201.90" stroke="#000" stroke-width="1.8"/>
<line x1="1164.90" y1="1201.90" x2="1154.40" y2="1201.90" stroke="#000" stroke-width="1.8"/>
<line x1="115.00" y1="1186.64" x2="125.50" y2="1186.64" stroke="#000" stroke-width="1.8"/>
<line x1="1164.90" y1="1186.64" x2="1154.40" y2="1186.64" stroke="#000" stroke-width="1.8"/>
<line x1="115.00" y1="1171.39" x2="125.50" y2="1171.39" stroke="#000" stroke-width="1.8"/>
<line x1="1164.90" y1="1171.39" x2="1154.40" y2="1171.39" stroke="#000" stroke-width="1.8"/>
<line x1="115.00" y1="1156.13" x2="125.50" y2="1156.13" stroke="#000" stroke-width="1.8"/>
<line x1="1164.90" y1="1156.13" x2="1154.40" y2="1156.13" stroke="#000" stroke-width="1.8"/>
<line x1="115.00" y1="1140.87" x2="125.50" y2="1140.87" stroke="#000" stroke-width="1.8"/>
<line x1="1164.90" y1="1140.87" x2="1154.40" y2="1140.87" stroke="#000" stroke-width="1.8"/>
<line x1="115.00" y1="1125.61" x2="125.50" y2="1125.61" stroke="#000" stroke-width="1.8"/>
<line x1="1164.90" y1="1125.61" x2="1154.40" y2="1125.61" stroke="#000" stroke-width="1.8"/>
<line x1="115.00" y1="1110.35" x2="125.50" y2="1110.35" stroke="#000" stroke-width="1.8"/>
<line x1="1164.90" y1="1110.35" x2="1154.40" y2="1110.35" stroke="#000" stroke-width="1.8"/>
<line x1="115.00" y1="1095.10" x2="125.50" y2="1095.10" stroke="#000" stroke-width="1.8"/>
<line x1="1164.90" y1="1095.10" x2="1154.40" y2="1095.10" stroke="#000" stroke-width="1.8"/>
<line x1="115.00" y1="1079.84" x2="125.50" y2="1079.84" stroke="#000" stroke-width="1.8"/>
<line x1="1164.90" y1="1079.84" x2="1154.40" y2="1079.84" stroke="#000" stroke-width="1.8"/>
<line x1="115.00" y1="1064.58" x2="136.00" y2="1064.58" stroke="#000" stroke-width="1.8"/>
<line x1="1164.90" y1="1064.58" x2="1143.90" y2="1064.58" stroke="#000" stroke-width="1.8"/>
<line x1="115.00" y1="1049.32" x2="125.50" y2="1049.32" stroke="#000" stroke-width="1.8"/>
<line x1="1164.90" y1="1049.32" x2="1154.40" y2="1049.32" stroke="#000" stroke-width="1.8"/>
<line x1="115.00" y1="1034.06" x2="125.50" y2="1034.06" stroke="#000" stroke-width="1.8"/>
<line x1="1164.90" y1="1034.06" x2="1154.40" y2="1034.06" stroke="#000" stroke-width="1.8"/>
<line x1="115.00" y1="1018.81" x2="125.50" y2="1018.81" stroke="#000" stroke-width="1.8"/>
<line x1="1164.90" y1="1018.81" x2="1154.40" y2="1018.81" stroke="#000" stroke-width="1.8"/>
<line x1="115.00" y1="1003.55" x2="125.50" y2="1003.55" stroke="#000" stroke-width="1.8"/>
<line x1="1164.90" y1="1003.55" x2="1154.40" y2="1003.55" stroke="#000" stroke-width="1.8"/>
<line x1="115.00" y1="988.29" x2="125.50" y2="988.29" stroke="#000" stroke-width="1.8"/>
<line x1="1164.90" y1="988.29" x2="1154.40" y2="988.29" stroke="#000" stroke-width="1.8"/>
<line x1="115.00" y1="973.03" x2="125.50" y2="973.03" stroke="#000" stroke-width="1.8"/>
<line x1="1164.90" y1="973.03" x2="1154.40" y2="973.03" stroke="#000" stroke-width="1.8"/>
<line x1="115.00" y1="957.77" x2="125.50" y2="957.77" stroke="#000" stroke-width="1.8"/>
<line x1="1164.90" y1="957.77" x2="1154.40" y2="957.77" stroke="#000" stroke-width="1.8"/>
<line x1="115.00" y1="942.52" x2="125.50" y2="942.52" stroke="#000" stroke-width="1.8"/>
<line x1="1164.90" y1="942.52" x2="1154.40" y2="942.52" stroke="#000" stroke-width="1.8"/>
<line x1="115.00" y1="927.26" x2="125.50" y2="927.26" stroke="#000" stroke-width="1.8"/>
<line x1="1164.90" y1="927.26" x2="1154.40" y2="927.26" stroke="#000" stroke-width="1.8"/>
<line x1="115.00" y1="912.00" x2="136.00" y2="912.00" stroke="#000" stroke-width="1.8"/>
<line x1="1164.90" y1="912.00" x2="1143.90" y2="912.00" stroke="#000" stroke-width="1.8"/>
<text x="115.00" y="1723.90" text-anchor="middle" font-size="39">0</text>
<text x="377.48" y="1723.90" text-anchor="middle" font-size="39">50</text>
<text x="639.95" y="1723.90" text-anchor="middle" font-size="39">100</text>
<text x="902.42" y="1723.90" text-anchor="middle" font-size="39">150</text>
<text x="1164.90" y="1723.90" text-anchor="middle" font-size="39">200</text>
<text x="105.50" y="1675.70" text-anchor="end" font-size="39">0</text>
<text x="105.50" y="1536.12" text-anchor="end" font-size="39">1</text>
<text x="105.50" y="1383.54" text-anchor="end" font-size="39">2</text>
<text x="105.50" y="1230.96" text-anchor="end" font-size="39">3</text>
<text x="105.50" y="1078.38" text-anchor="end" font-size="39">4</text>
<text x="105.50" y="936.10" text-anchor="end" font-size="39">5</text>
<text x="640.95" y="1765.40" text-anchor="middle" font-size="39">Time past explosion [days]</text>
<text transform="translate(53.30,0) rotate(-90)"><tspan x="-1640.80" y="-17" font-size="23">56</tspan><tspan x="-1613.90" y="0" font-size="38.5">Co 1238 keV line flux [10</tspan><tspan x="-1185.00" y="-17" font-size="23">−4</tspan><tspan x="-1147.50" y="0" font-size="38.5">ph cm</tspan><tspan x="-1044.50" y="-17" font-size="23">−2</tspan><tspan x="-1003.10" y="0" font-size="38.5">s</tspan><tspan x="-983.70" y="-17" font-size="23">−1</tspan><tspan x="-955.40" y="0" font-size="38.5">]</tspan></text>
</svg>
</body></html>
